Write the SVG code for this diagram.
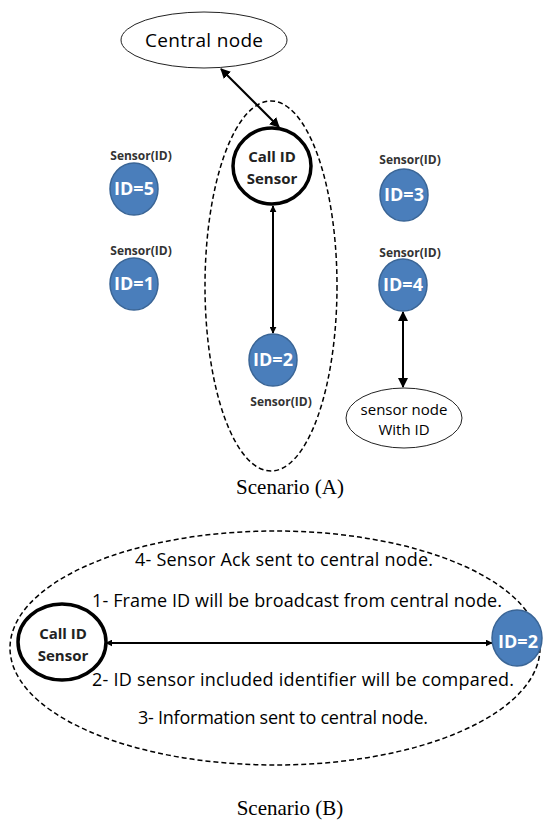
<svg xmlns="http://www.w3.org/2000/svg" width="546" height="831" viewBox="0 0 546 831">
  <style>
    .sans { font-family: "Open Sans", "DejaVu Sans", sans-serif; }
    .serif { font-family: "Liberation Serif", "Times New Roman", serif; }
    .oval { fill: #ffffff; stroke: #222222; stroke-width: 1; }
    .call { fill: #ffffff; stroke: #000000; stroke-width: 3.5; }
    .sensor { fill: #4a7ebb; stroke: #3a6596; stroke-width: 1.5; }
    .idtxt { fill: #ffffff; font-weight: bold; font-size: 18px; text-anchor: middle; }
    .lbl { fill: #333333; font-weight: bold; font-size: 12px; text-anchor: middle; }
    .calltxt { fill: #222222; font-weight: bold; font-size: 15px; text-anchor: middle; }
    .zone { fill: none; stroke: #000000; stroke-width: 1.5; stroke-dasharray: 5 3; }
    .link { stroke: #000000; stroke-width: 2; fill: none; }
    .step { fill: #000000; font-size: 18px; text-anchor: middle; }
  </style>
  <defs>
    <marker id="ah" viewBox="0 0 10 10" refX="9" refY="5" markerWidth="7" markerHeight="7" orient="auto-start-reverse" markerUnits="userSpaceOnUse">
      <path d="M0,0 L10,5 L0,10 z" fill="#000000"/>
    </marker>
    <marker id="ahs" viewBox="0 0 10 10" refX="9" refY="5" markerWidth="10" markerHeight="10" orient="auto-start-reverse" markerUnits="userSpaceOnUse">
      <path d="M0,0 L10,5 L0,10 z" fill="#000000"/>
    </marker>
  </defs>

  <!-- Scenario A cluster boundary -->
  <ellipse class="zone" cx="271" cy="286" rx="66" ry="185"/>

  <!-- connectors -->
  <g id="connectors">
    <line class="link" x1="221" y1="69" x2="279" y2="127" marker-start="url(#ahs)" marker-end="url(#ahs)"/>
    <line class="link" x1="273" y1="206" x2="273" y2="333" marker-start="url(#ah)" marker-end="url(#ah)"/>
    <line class="link" x1="403" y1="312" x2="403" y2="387" marker-start="url(#ahs)" marker-end="url(#ahs)"/>
  </g>

  <g id="central">
    <ellipse class="oval" cx="204" cy="40" rx="83" ry="28"/>
    <text class="sans" x="204" y="47" font-size="19" text-anchor="middle" textLength="118">Central node</text>
  </g>

  <g id="call-a">
    <ellipse class="call" cx="272" cy="166" rx="39" ry="38"/>
    <text class="sans calltxt" x="272" y="162">Call ID</text>
    <text class="sans calltxt" x="272" y="184">Sensor</text>
  </g>

  <g id="s5">
    <text class="sans lbl" x="141" y="160">Sensor(ID)</text>
    <ellipse class="sensor" cx="134" cy="189" rx="24" ry="26"/>
    <text class="sans idtxt" x="134" y="195">ID=5</text>
  </g>
  <g id="s1">
    <text class="sans lbl" x="141" y="255">Sensor(ID)</text>
    <ellipse class="sensor" cx="134" cy="284" rx="24" ry="26"/>
    <text class="sans idtxt" x="134" y="290">ID=1</text>
  </g>
  <g id="s3">
    <text class="sans lbl" x="410" y="164">Sensor(ID)</text>
    <ellipse class="sensor" cx="404" cy="195" rx="24" ry="26"/>
    <text class="sans idtxt" x="404" y="201">ID=3</text>
  </g>
  <g id="s4">
    <text class="sans lbl" x="410" y="257">Sensor(ID)</text>
    <ellipse class="sensor" cx="403" cy="285" rx="24" ry="26"/>
    <text class="sans idtxt" x="403" y="291">ID=4</text>
  </g>
  <g id="s2">
    <ellipse class="sensor" cx="273" cy="360" rx="24" ry="26"/>
    <text class="sans idtxt" x="273" y="366">ID=2</text>
    <text class="sans lbl" x="281" y="406">Sensor(ID)</text>
  </g>

  <g id="sensor-node">
    <ellipse class="oval" cx="404" cy="418" rx="58" ry="30"/>
    <text class="sans" x="404" y="415" font-size="15" text-anchor="middle">sensor node</text>
    <text class="sans" x="404" y="435" font-size="15" text-anchor="middle">With ID</text>
  </g>

  <text class="serif" x="290" y="494" font-size="21" text-anchor="middle">Scenario (A)</text>

  <!-- Scenario B -->
  <ellipse class="zone" cx="275" cy="648" rx="265" ry="117"/>

  <g id="connectors-b">
    <line class="link" x1="106" y1="643" x2="492" y2="643" stroke-width="1.5" marker-start="url(#ah)" marker-end="url(#ah)"/>
  </g>

  <g id="call-b">
    <ellipse class="call" cx="62" cy="642" rx="44" ry="38"/>
    <text class="sans calltxt" x="63" y="639">Call ID</text>
    <text class="sans calltxt" x="63" y="661">Sensor</text>
  </g>
  <g id="s2-b">
    <ellipse class="sensor" cx="517" cy="638" rx="25" ry="28"/>
    <text class="sans idtxt" x="518" y="648">ID=2</text>
  </g>

  <g id="steps">
    <text class="sans step" x="284" y="566" textLength="298">4- Sensor Ack sent to central node.</text>
    <text class="sans step" x="297" y="607" textLength="410">1- Frame ID will be broadcast from central node.</text>
    <text class="sans step" x="303" y="686" textLength="422">2- ID sensor included identifier will be compared.</text>
    <text class="sans step" x="283" y="724" textLength="290">3- Information sent to central node.</text>
  </g>

  <text class="serif" x="290" y="815" font-size="21" text-anchor="middle">Scenario (B)</text>
</svg>
